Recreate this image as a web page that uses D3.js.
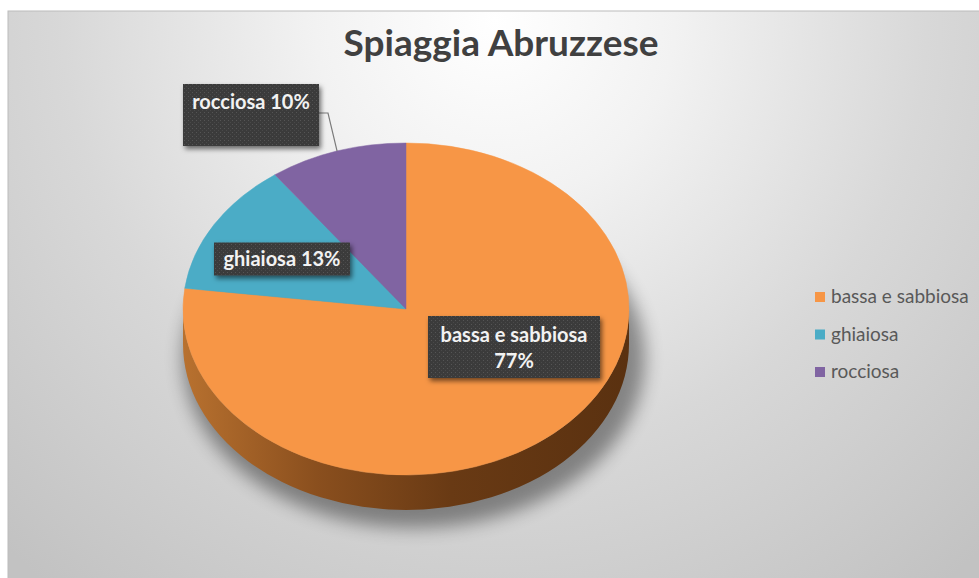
<!DOCTYPE html>
<html>
<head>
<meta charset="utf-8">
<script src="https://cdn.jsdelivr.net/npm/d3@7"></script>
<style>
  body { margin: 0; background: #fff; }
  svg { display: block; }
</style>
</head>
<body>
<div id="chart"></div>
<script>
// dati
const categories = ["bassa e sabbiosa", "ghiaiosa", "rocciosa"];
const values = [77, 13, 10];
const colors = ["#F79646", "#4BACC6", "#8064A2"];
const title = "Spiaggia Abruzzese";

const width = 979;
const height = 578;

// geometria torta 3D
const pieBox = { cx: 406, cy: 309, rx: 223, ry: 166, depth: 35 };

// posizione etichette (centro del riquadro) - layout, non dati
const labelPos = [
  { x: 514, y: 347, w: 172, h: 62 },
  { x: 282, y: 259, w: 136, h: 33 },
  { x: 251, y: 115, w: 136, h: 62 },
];

const svg = d3
  .select("div#chart")
  .append("svg")
  .attr("width", width)
  .attr("height", height);

const defs = svg.append("defs");

// sfondo radiale
const bg = defs
  .append("radialGradient")
  .attr("id", "bgGrad")
  .attr("gradientUnits", "userSpaceOnUse")
  .attr("cx", 495)
  .attr("cy", 20)
  .attr("r", 720);
bg.append("stop").attr("offset", "0").attr("stop-color", "#ffffff");
bg.append("stop").attr("offset", "0.25").attr("stop-color", "#f2f2f2");
bg.append("stop").attr("offset", "0.6").attr("stop-color", "#d8d8d8");
bg.append("stop").attr("offset", "1").attr("stop-color", "#c2c2c2");

// lato della torta
const sideGrad = defs
  .append("linearGradient")
  .attr("id", "sideGrad")
  .attr("x1", "0")
  .attr("x2", "1")
  .attr("y1", "0")
  .attr("y2", "0");
sideGrad.append("stop").attr("offset", "0").attr("stop-color", "#b8712f");
sideGrad.append("stop").attr("offset", "0.3").attr("stop-color", "#8a4f1e");
sideGrad.append("stop").attr("offset", "0.6").attr("stop-color", "#693a14");
sideGrad.append("stop").attr("offset", "1").attr("stop-color", "#5a3110");

// ombra
defs
  .append("filter")
  .attr("id", "blur")
  .attr("x", "-20%")
  .attr("y", "-20%")
  .attr("width", "140%")
  .attr("height", "140%")
  .append("feGaussianBlur")
  .attr("stdDeviation", 9);

const ds = defs
  .append("filter")
  .attr("id", "boxShadow")
  .attr("x", "-20%")
  .attr("y", "-30%")
  .attr("width", "140%")
  .attr("height", "170%");
ds.append("feDropShadow")
  .attr("dx", 2)
  .attr("dy", 3)
  .attr("stdDeviation", 2.5)
  .attr("flood-color", "#000")
  .attr("flood-opacity", 0.55);

// trama puntinata dei riquadri
const pat = defs
  .append("pattern")
  .attr("id", "dots")
  .attr("width", 4)
  .attr("height", 4)
  .attr("patternUnits", "userSpaceOnUse");
pat.append("rect").attr("width", 4).attr("height", 4).attr("fill", "#3b3b3b");
pat.append("rect").attr("x", 1).attr("y", 1).attr("width", 1).attr("height", 1).attr("fill", "#555");
pat.append("rect").attr("x", 3).attr("y", 3).attr("width", 1).attr("height", 1).attr("fill", "#4a4a4a");

// area grafico
svg
  .append("rect")
  .attr("x", 8)
  .attr("y", 11)
  .attr("width", width)
  .attr("height", height)
  .attr("fill", "url(#bgGrad)")
  .attr("stroke", "#bcbcbc")
  .attr("stroke-width", 1);

// titolo
svg
  .append("text")
  .attr("x", 501)
  .attr("y", 56)
  .attr("text-anchor", "middle")
  .attr("font-family", "Lato, 'Open Sans', sans-serif")
  .attr("font-weight", "bold")
  .attr("font-size", 37)
  .attr("fill", "#404040")
  .text(title);

// torta
const pie = d3.pie().sort(null).value((d) => d.value);
const arcs = pie(categories.map((c, i) => ({ name: c, value: values[i], color: colors[i] })));

const { cx, cy, rx, ry, depth } = pieBox;
const pt = (a, dy = 0) => [cx + rx * Math.sin(a), cy - ry * Math.cos(a) + dy];

const pieGroup = svg.append("g");

// ombra sotto la torta
pieGroup
  .append("ellipse")
  .attr("cx", cx + 8)
  .attr("cy", cy + depth + 14)
  .attr("rx", rx + 8)
  .attr("ry", ry + 4)
  .attr("fill", "#000")
  .attr("opacity", 0.4)
  .attr("filter", "url(#blur)");

// pareti laterali (metà frontale)
arcs.forEach((d) => {
  const s = Math.max(d.startAngle, Math.PI / 2);
  const e = Math.min(d.endAngle, (3 * Math.PI) / 2);
  if (e <= s) return;
  const p0 = pt(s), p1 = pt(e), q1 = pt(e, depth), q0 = pt(s, depth);
  const path = `M${p0}A${rx},${ry} 0 0 1 ${p1}L${q1}A${rx},${ry} 0 0 0 ${q0}Z`;
  pieGroup.append("path").attr("d", path).attr("fill", "url(#sideGrad)");
});

// facce superiori
pieGroup
  .selectAll("path.slice")
  .data(arcs)
  .join("path")
  .attr("class", "slice")
  .attr("d", (d) => {
    const p0 = pt(d.startAngle), p1 = pt(d.endAngle);
    const large = d.endAngle - d.startAngle > Math.PI ? 1 : 0;
    return `M${cx},${cy}L${p0}A${rx},${ry} 0 ${large} 1 ${p1}Z`;
  })
  .attr("fill", (d) => d.data.color)
  .attr("stroke", (d) => d.data.color)
  .attr("stroke-width", 0.5);

// etichette
const total = d3.sum(values);
arcs.forEach((d, i) => {
  const lp = labelPos[i];
  const pct = Math.round((d.data.value / total) * 100) + "%";
  const twoLines = i === 0;

  // linea guida per l'etichetta fuori dalla fetta
  if (i === 2) {
    const mid = (d.startAngle + d.endAngle) / 2;
    const edge = pt(mid);
    const bx = lp.x + lp.w / 2;
    const by = lp.y - 2;
    svg
      .append("polyline")
      .attr("points", `${bx},${by} ${bx + 9},${by} ${edge}`)
      .attr("fill", "none")
      .attr("stroke", "#7a7a7a")
      .attr("stroke-width", 1.2);
  }

  const g = svg.append("g").attr("transform", `translate(${lp.x},${lp.y})`);
  g.append("rect")
    .attr("x", -lp.w / 2)
    .attr("y", -lp.h / 2)
    .attr("width", lp.w)
    .attr("height", lp.h)
    .attr("fill", "url(#dots)")
    .attr("filter", "url(#boxShadow)");

  const t = g
    .append("text")
    .attr("font-family", "Lato, 'Open Sans', sans-serif")
    .attr("font-weight", "bold")
    .attr("font-size", 20)
    .attr("fill", "#f2f2f2");

  if (twoLines) {
    t.append("tspan").attr("x", 0).attr("y", -5).attr("text-anchor", "middle").text(d.data.name);
    t.append("tspan").attr("x", 0).attr("y", 21).attr("text-anchor", "middle").text(pct);
  } else if (i === 1) {
    t.attr("text-anchor", "middle").attr("y", 7).text(d.data.name + " " + pct);
  } else {
    t.attr("text-anchor", "middle").attr("y", -6).text(d.data.name + " " + pct);
  }
});

// legenda
const legend = svg
  .append("g")
  .attr("transform", "translate(815, 297)")
  .selectAll("g")
  .data(categories)
  .join("g")
  .attr("transform", (d, i) => `translate(0, ${i * 37.5})`);

legend
  .append("rect")
  .attr("x", 0)
  .attr("y", -5)
  .attr("width", 10)
  .attr("height", 10)
  .attr("fill", (d, i) => colors[i]);

legend
  .append("text")
  .attr("x", 16)
  .attr("y", 6)
  .attr("font-family", "Lato, 'Open Sans', sans-serif")
  .attr("font-size", 19)
  .attr("fill", "#595959")
  .text((d) => d);
</script>
</body>
</html>
